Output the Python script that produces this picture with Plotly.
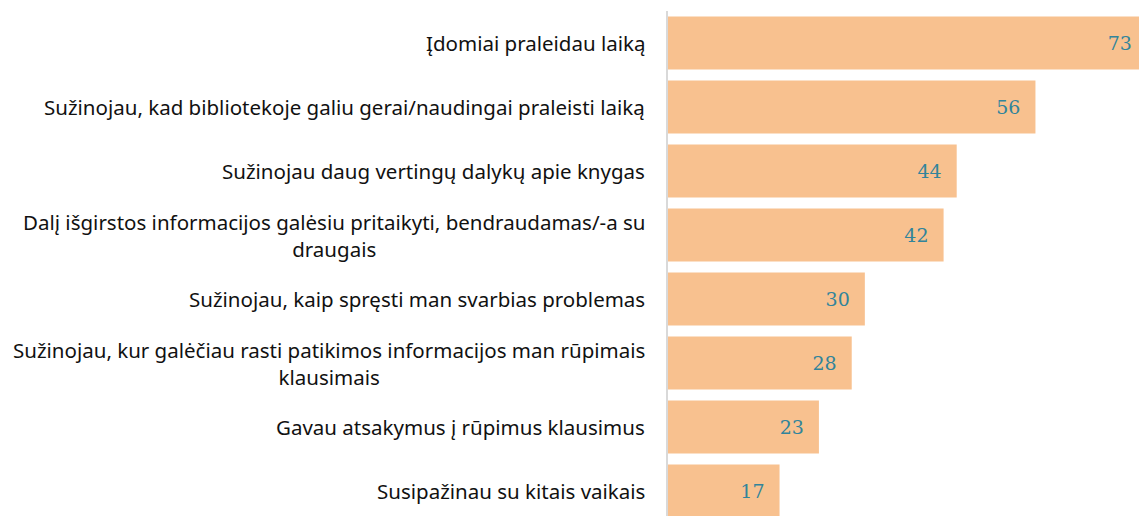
import plotly.graph_objects as go

# Data
categories = [
    "Įdomiai praleidau laiką",
    "Sužinojau, kad bibliotekoje galiu gerai/naudingai praleisti laiką",
    "Sužinojau daug vertingų dalykų apie knygas",
    "Dalį išgirstos informacijos galėsiu pritaikyti, bendraudamas/-a su<br>draugais",
    "Sužinojau, kaip spręsti man svarbias problemas",
    "Sužinojau, kur galėčiau rasti patikimos informacijos man rūpimais<br>klausimais",
    "Gavau atsakymus į rūpimus klausimus",
    "Susipažinau su kitais vaikais",
]
values = [73, 56, 44, 42, 30, 28, 23, 17]

BAR_COLOR = "#F8C18F"
VALUE_COLOR = "#31849B"
LABEL_FONT = "Noto Sans"

fig = go.Figure(
    go.Bar(
        x=values,
        y=list(range(len(categories))),
        orientation="h",
        marker=dict(color=BAR_COLOR, line=dict(width=0)),
        texttemplate="%{x}\u00a0\u00a0",
        textposition="inside",
        insidetextanchor="end",
        textfont=dict(family="DejaVu Serif", size=19, color=VALUE_COLOR),
        width=0.83,
        hoverinfo="skip",
    )
)

# category labels as centred, right-anchored annotations
for i, cat in enumerate(categories):
    fig.add_annotation(
        x=0, xref="paper", xanchor="right", xshift=-21,
        y=i, yref="y", yanchor="middle",
        text=cat, showarrow=False, align="center",
        font=dict(family=LABEL_FONT, size=20.5, color="#111111"),
    )

# page body has an 8px margin, so the figure sits at (8, 8)
fig.update_layout(
    width=1139,
    height=508,
    margin=dict(l=660, r=0, t=3, b=0),
    plot_bgcolor="white",
    paper_bgcolor="white",
    showlegend=False,
    uniformtext=dict(mode=False),
)
fig.update_xaxes(range=[0, 73], visible=False)
fig.update_yaxes(
    range=[7.39, -0.5],
    showticklabels=False,
    showgrid=False,
    zeroline=False,
    showline=True,
    linecolor="#D9D9D9",
    linewidth=2,
    ticks="",
)

fig.write_html("out.html")
